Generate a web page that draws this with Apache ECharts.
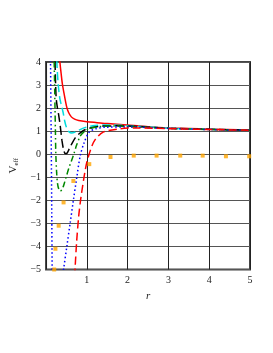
<!DOCTYPE html>
<html><head><meta charset="utf-8">
<script src="https://cdn.jsdelivr.net/npm/echarts@6/dist/echarts.min.js"></script>
<style>html,body{margin:0;padding:0;background:#fff}#c{width:273px;height:353px}</style>
</head><body><div id="c"></div>
<script>
// ---- data ----
const xTicks = [0, 1, 2, 3, 4, 5];
const yTicks = [-5, -4, -3, -2, -1, 0, 1, 2, 3, 4];

const redSolidR = [0.32, 0.34, 0.37, 0.40, 0.44, 0.50, 0.55, 0.62, 0.70, 0.80, 1.0, 1.25, 1.5, 2.0, 2.5, 3.0, 4.0, 5.0];
const redSolidV = [4.6, 4.0, 3.5, 3.05, 2.65, 2.1, 1.82, 1.62, 1.52, 1.46, 1.41, 1.37, 1.33, 1.27, 1.19, 1.14, 1.09, 1.05];

const cyanR = [0.25, 0.27, 0.30, 0.34, 0.38, 0.42, 0.46, 0.50, 0.56, 0.63, 0.70, 0.80, 0.90, 1.0, 1.2, 1.5, 2.0, 3.0, 4.0, 5.0];
const cyanV = [4.6, 3.8, 3.0, 2.4, 2.1, 1.8, 1.42, 1.17, 0.98, 0.92, 0.95, 1.04, 1.12, 1.18, 1.25, 1.27, 1.24, 1.13, 1.08, 1.05];

const blackR = [0.21, 0.22, 0.235, 0.25, 0.28, 0.31, 0.35, 0.39, 0.43, 0.47, 0.51, 0.56, 0.63, 0.72, 0.82, 0.92, 1.05, 1.2, 1.4, 1.7, 2.0, 3.0, 4.0, 5.0];
const blackV = [4.6, 4.0, 3.0, 2.4, 2.0, 1.7, 1.2, 0.6, 0.2, 0.03, 0.04, 0.2, 0.45, 0.72, 0.9, 1.03, 1.12, 1.18, 1.22, 1.23, 1.22, 1.13, 1.08, 1.04];

const greenR = [0.195, 0.2, 0.21, 0.22, 0.23, 0.24, 0.26, 0.28, 0.31, 0.35, 0.40, 0.45, 0.50, 0.56, 0.62, 0.68, 0.75, 0.85, 0.95, 1.05, 1.2, 1.4, 1.7, 2.0, 3.0, 4.0, 5.0];
const greenV = [4.6, 4.0, 3.0, 2.0, 1.0, 0.0, -0.8, -1.25, -1.5, -1.6, -1.5, -1.25, -0.95, -0.6, -0.3, 0.0, 0.4, 0.82, 1.0, 1.1, 1.17, 1.21, 1.22, 1.2, 1.12, 1.07, 1.04];

const blueR = [0.105, 0.11, 0.12, 0.13, 0.14, 0.15, 0.155, 0.3, 0.42, 0.43, 0.51, 0.59, 0.67, 0.75, 0.84, 0.94, 1.06, 1.21, 1.45, 2.0, 3.0, 4.0, 5.0];
const blueV = [4.6, 4.0, 2.0, 0.0, -2.5, -5.0, -6.0, null, -5.2, -5.0, -4.0, -3.0, -2.0, -1.05, -0.05, 0.53, 0.96, 1.1, 1.17, 1.18, 1.12, 1.07, 1.04];

const redDashR = [0.70, 0.71, 0.75, 0.80, 0.85, 0.90, 0.95, 1.0, 1.1, 1.2, 1.4, 1.8, 2.2, 3.0, 4.0, 5.0];
const redDashV = [-5.3, -5.0, -3.8, -2.7, -1.95, -1.35, -0.8, -0.35, 0.24, 0.62, 0.96, 1.1, 1.14, 1.11, 1.07, 1.04];

const orangeR = [0.2, 0.23, 0.31, 0.43, 0.67, 1.06, 1.58, 2.15, 2.71, 3.29, 3.84, 4.41, 4.98];
const orangeV = [-5.0, -4.1, -3.1, -2.09, -1.16, -0.43, -0.12, -0.06, -0.06, -0.06, -0.06, -0.09, -0.09];

function zip(r, v) { return r.map((x, i) => [x, v[i] === null ? '-' : v[i]]); }

const chart = echarts.init(document.getElementById('c'), null, {renderer: 'canvas'});
const serif = 'Liberation Serif';
function lineSeries(r, v, color, type, width) {
  return {
    type: 'line', data: zip(r, v), showSymbol: false, symbol: 'none',
    smooth: 0.3, clip: true, connectNulls: false,
    lineStyle: {color: color, width: width || 1.5, type: type},
    z: 3
  };
}
chart.setOption({
  animation: false,
  grid: {left: 40, right: 23, top: 62, bottom: 83.5, show: true, borderColor: '#444', borderWidth: 2, backgroundColor: 'transparent'},
  xAxis: {
    type: 'value', min: xTicks[0], max: xTicks[xTicks.length - 1], interval: 1,
    axisLine: {show: false}, axisTick: {show: false},
    splitLine: {show: true, lineStyle: {color: '#222', width: 1}},
    axisLabel: {color: '#222', fontFamily: serif, fontSize: 10, margin: 6,
      formatter: v => v === 0 ? '' : String(v)},
    name: 'r', nameLocation: 'middle', nameGap: 13,
    nameTextStyle: {fontFamily: serif, fontStyle: 'italic', fontSize: 11, color: '#222'}
  },
  yAxis: {
    type: 'value', min: yTicks[0], max: yTicks[yTicks.length - 1], interval: 1,
    axisLine: {show: false}, axisTick: {show: false},
    splitLine: {show: true, lineStyle: {color: '#555', width: 1}},
    axisLabel: {color: '#222', fontFamily: serif, fontSize: 10, margin: 5,
      formatter: v => String(v).replace('-', '\u2212')},
    name: '{v|V}{s|eff}', nameLocation: 'middle', nameGap: 15, nameRotate: 90,
    nameTextStyle: {rich: {
      v: {fontFamily: serif, fontSize: 11, color: '#222'},
      s: {fontFamily: serif, fontSize: 7, color: '#222', padding: [5, 0, 0, 0]}
    }}
  },
  series: [
    lineSeries(redSolidR, redSolidV, '#ff0000', 'solid'),
    lineSeries(cyanR, cyanV, '#00dddd', [8, 4]),
    lineSeries(blackR, blackV, '#000000', [9, 4]),
    lineSeries(greenR, greenV, '#008800', [6, 3, 1.5, 3]),
    lineSeries(blueR, blueV, '#0000ff', [1.5, 2.5]),
    lineSeries(redDashR, redDashV, '#ff0000', [8, 4]),
    {type: 'scatter', data: zip(orangeR, orangeV), symbol: 'rect', symbolSize: 4,
     itemStyle: {color: '#ffa500'}, clip: false, z: 4}
  ]
});
</script></body></html>
